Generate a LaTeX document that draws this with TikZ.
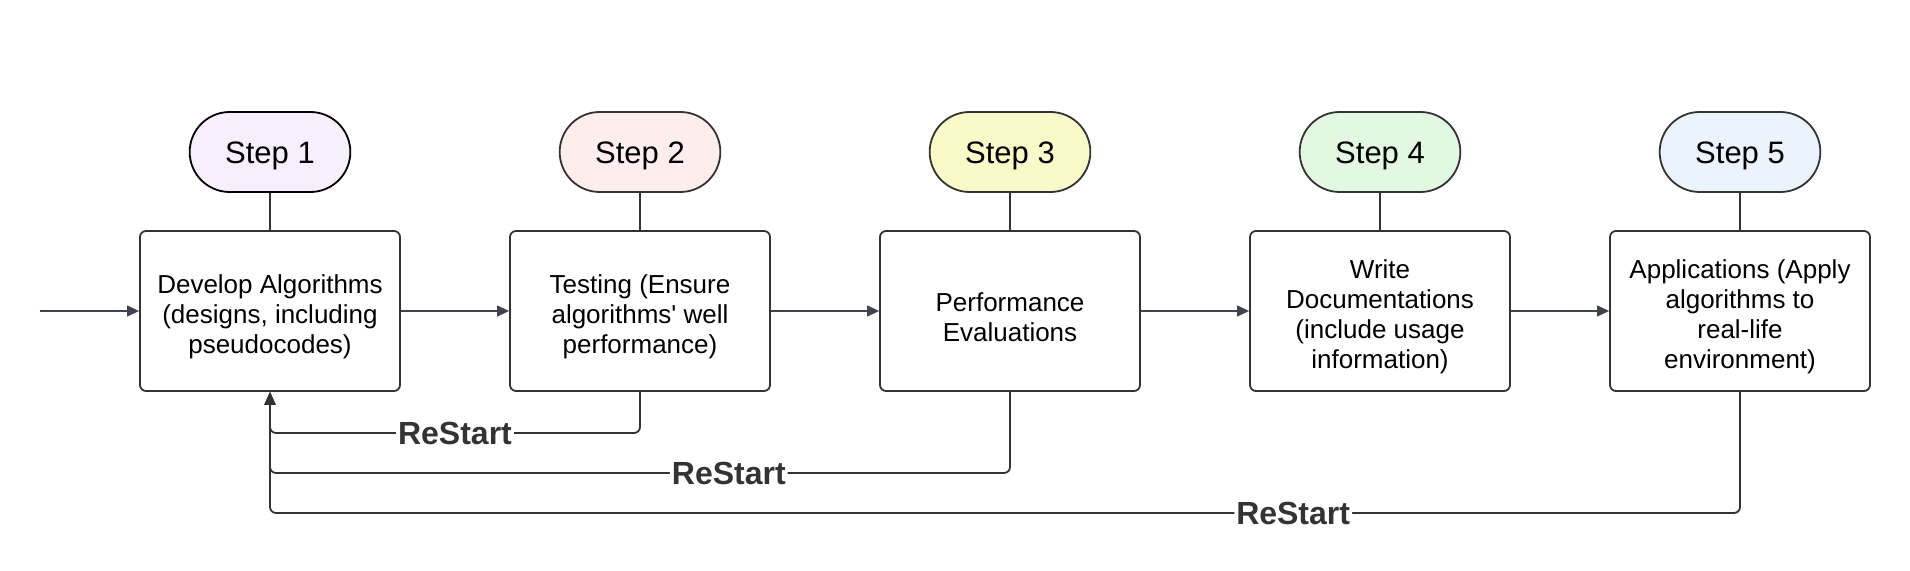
\documentclass[tikz,border=0pt]{standalone}
\usepackage{fontspec}
\setmainfont{Liberation Sans}
\usetikzlibrary{arrows.meta, positioning, shapes.misc}

\definecolor{edgegray}{HTML}{333333}
\definecolor{arrowgray}{HTML}{3F4450}
\definecolor{stepa}{HTML}{F8EFFC}
\definecolor{stepb}{HTML}{FDEEED}
\definecolor{stepc}{HTML}{FAFAC8}
\definecolor{stepd}{HTML}{E3F8E0}
\definecolor{stepe}{HTML}{EBF3FD}
\newcommand{\topstrut}{\rule{0pt}{15.5pt}}

\begin{document}
\begin{tikzpicture}[
      x=0.5pt, y=-0.5pt,
      pill/.style={rounded rectangle, draw=edgegray, line width=0.9pt, minimum width=87pt, minimum height=40pt, text height=14pt, text depth=2.5pt, font=\fontsize{15.5}{18}\selectfont},
      task/.style={draw=edgegray, line width=0.9pt, rounded corners=3pt, minimum width=130pt, minimum height=80pt, align=center, font=\fontsize{13}{15}\selectfont},
      link/.style={edgegray, line width=0.9pt},
      arr/.style={-{Triangle[length=6pt, width=5.5pt]}, arrowgray, line width=0.6pt},
      back/.style={-{Triangle[length=6.5pt, width=5.5pt]}, edgegray, line width=0.9pt, rounded corners=3pt},
      tag/.style={fill=white, inner sep=1pt, text=edgegray, font=\bfseries\fontsize{16}{18}\selectfont}
    ]
      \useasboundingbox (0,0) rectangle (1910,571);

      % Step labels
      \node[pill, fill=stepa, draw=black] (s1) at (270,152) {Step 1};
      \node[pill, fill=stepb] (s2) at (640,152) {Step 2};
      \node[pill, fill=stepc] (s3) at (1010,152) {Step 3};
      \node[pill, fill=stepd] (s4) at (1380,152) {Step 4};
      \node[pill, fill=stepe] (s5) at (1740,152) {Step 5};

      % Tasks
      \node[task] (dev) at (270,311) {\topstrut Develop Algorithms\\(designs, including\\pseudocodes)};
      \node[task] (test) at (640,311) {\topstrut Testing (Ensure\\algorithms\textquotesingle{} well\\performance)};
      \node[task] (perf) at (1010,311) {\topstrut Performance\\Evaluations};
      \node[task] (doc) at (1380,311) {\topstrut Write\\Documentations\\(include usage\\information)};
      \node[task] (app) at (1740,311) {\topstrut Applications (Apply\\algorithms to\\real-life\\environment)};
      \coordinate (in) at (40,311);

      % Steps to tasks
      \draw[link] (s1) -- (dev);
      \draw[link] (s2) -- (test);
      \draw[link] (s3) -- (perf);
      \draw[link] (s4) -- (doc);
      \draw[link] (s5) -- (app);

      % Main flow
      \draw[arr] (in) -- (dev);
      \draw[arr] (dev) -- (test);
      \draw[arr] (test) -- (perf);
      \draw[arr] (perf) -- (doc);
      \draw[arr] (doc) -- (app);

      % Restart loops
      \draw[back] (test.south) |- (270,433) node[tag, pos=0.75] {ReStart} -- (dev.south);
      \draw[back] (perf.south) |- (270,473) node[tag, pos=0.69] {ReStart} -- (dev.south);
      \draw[back] (app.south) |- (270,513) node[tag, pos=0.652] {ReStart} -- (dev.south);
    \end{tikzpicture}
\end{document}
